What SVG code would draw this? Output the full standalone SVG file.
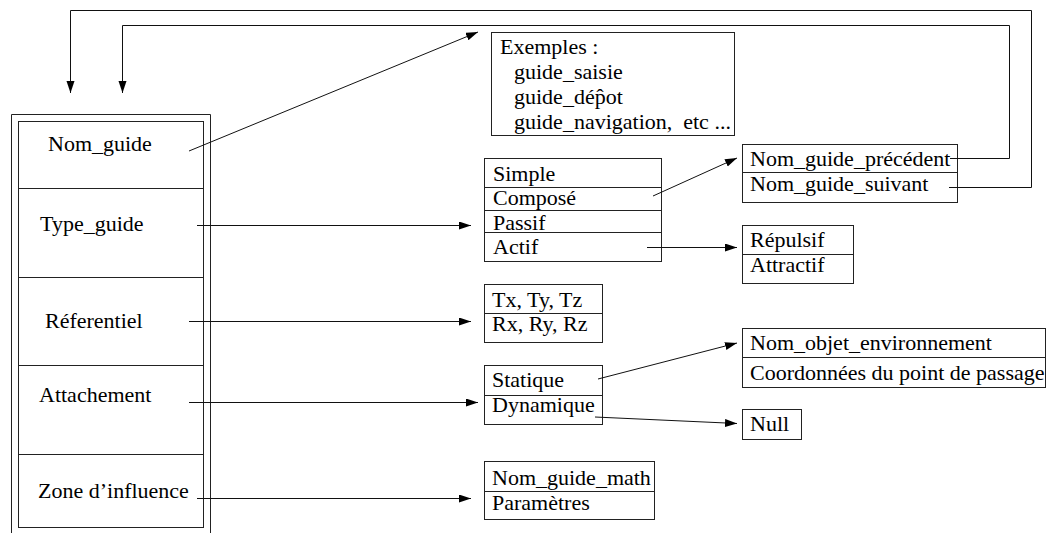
<svg xmlns="http://www.w3.org/2000/svg" width="1047" height="533" viewBox="0 0 1047 533">
<defs>
<marker id="ah" markerUnits="userSpaceOnUse" markerWidth="13" markerHeight="9" refX="12" refY="4" orient="auto">
<path d="M0,0 L12,4 L0,8 z" fill="#000"/>
</marker>
<style>
rect,line.d,path.b{fill:none;stroke:#222;stroke-width:1}
.c{fill:none;stroke:#111;stroke-width:1}
.a{marker-end:url(#ah)}
text{font-family:"Liberation Serif","Times New Roman",serif;font-size:22px;fill:#000}
</style>
</defs>
<rect width="1047" height="533" fill="#fff" style="stroke:none"/>

<g id="guide">
<path class="b" d="M11.5,533 V114.5 H210.5 V533"/>
<rect x="18.5" y="121.5" width="185" height="406"/>
<line class="d" x1="18.5" y1="188.5" x2="203.5" y2="188.5"/>
<line class="d" x1="18.5" y1="277.5" x2="203.5" y2="277.5"/>
<line class="d" x1="18.5" y1="365.5" x2="203.5" y2="365.5"/>
<line class="d" x1="18.5" y1="454.5" x2="203.5" y2="454.5"/>
<text x="48" y="151">Nom_guide</text>
<text x="40" y="231">Type_guide</text>
<text x="45" y="328">Réferentiel</text>
<text x="39" y="402">Attachement</text>
<text x="38" y="498">Zone d’influence</text>
</g>

<g id="exemples">
<rect x="491.5" y="32.5" width="243" height="103"/>
<text x="500" y="54">Exemples :</text>
<text x="514" y="79">guide_saisie</text>
<text x="514" y="104">guide_dép&#770;ot</text>
<text x="514" y="129">guide_navigation,&#160; etc ...</text>
</g>

<g id="type">
<rect x="484.5" y="158.5" width="177" height="103"/>
<line class="d" x1="484.5" y1="187.5" x2="661.5" y2="187.5"/>
<line class="d" x1="484.5" y1="210.5" x2="661.5" y2="210.5"/>
<line class="d" x1="484.5" y1="232.5" x2="661.5" y2="232.5"/>
<text x="493" y="181">Simple</text>
<text x="493" y="205">Composé</text>
<text x="493" y="230">Passif</text>
<text x="493" y="254">Actif</text>
</g>

<g id="compose">
<rect x="742.5" y="144.5" width="215" height="58"/>
<line class="d" x1="742.5" y1="172.5" x2="957.5" y2="172.5"/>
<text x="750" y="166">Nom_guide_précédent</text>
<text x="750" y="191">Nom_guide_suivant</text>
</g>

<g id="actif">
<rect x="742.5" y="225.5" width="111" height="58"/>
<line class="d" x1="742.5" y1="254.5" x2="853.5" y2="254.5"/>
<text x="750" y="247">Répulsif</text>
<text x="750" y="272">Attractif</text>
</g>

<g id="referentiel">
<rect x="484.5" y="284.5" width="118" height="58"/>
<line class="d" x1="484.5" y1="313.5" x2="602.5" y2="313.5"/>
<text x="492" y="307">Tx, Ty, Tz</text>
<text x="492" y="331">Rx, Ry, Rz</text>
</g>

<g id="attachement">
<rect x="484.5" y="365.5" width="118" height="59"/>
<line class="d" x1="484.5" y1="395.5" x2="602.5" y2="395.5"/>
<text x="492" y="387">Statique</text>
<text x="492" y="412">Dynamique</text>
</g>

<g id="statique">
<rect x="742.5" y="328.5" width="303" height="59"/>
<line class="d" x1="742.5" y1="357.5" x2="1045.5" y2="357.5"/>
<text x="750" y="350">Nom_objet_environnement</text>
<text x="750" y="380">Coordonnées du point de passage</text>
</g>

<g id="null">
<rect x="742.5" y="409.5" width="59" height="30"/>
<text x="750" y="431">Null</text>
</g>

<g id="zone">
<rect x="484.5" y="461.5" width="170" height="58"/>
<line class="d" x1="484.5" y1="491.5" x2="654.5" y2="491.5"/>
<text x="492" y="485">Nom_guide_math</text>
<text x="492" y="510">Paramètres</text>
</g>

<g id="connectors">
<line class="c a" x1="189" y1="151" x2="478" y2="32"/>
<line class="c a" x1="197" y1="225.5" x2="471" y2="225.5"/>
<line class="c a" x1="189" y1="321.5" x2="471" y2="321.5"/>
<line class="c a" x1="189" y1="402.5" x2="478" y2="402.5"/>
<line class="c a" x1="197" y1="498.5" x2="471" y2="498.5"/>
<line class="c a" x1="653" y1="196" x2="737" y2="158"/>
<line class="c a" x1="647" y1="247.5" x2="737" y2="247.5"/>
<line class="c a" x1="598" y1="379" x2="737" y2="343"/>
<line class="c a" x1="595" y1="417" x2="737" y2="423.5"/>
<path class="c a" d="M950,158.5 H1009.5 V25.5 H122.5 V93"/>
<path class="c a" d="M949,187.5 H1031.5 V10.5 H70.5 V93"/>
</g>
</svg>
